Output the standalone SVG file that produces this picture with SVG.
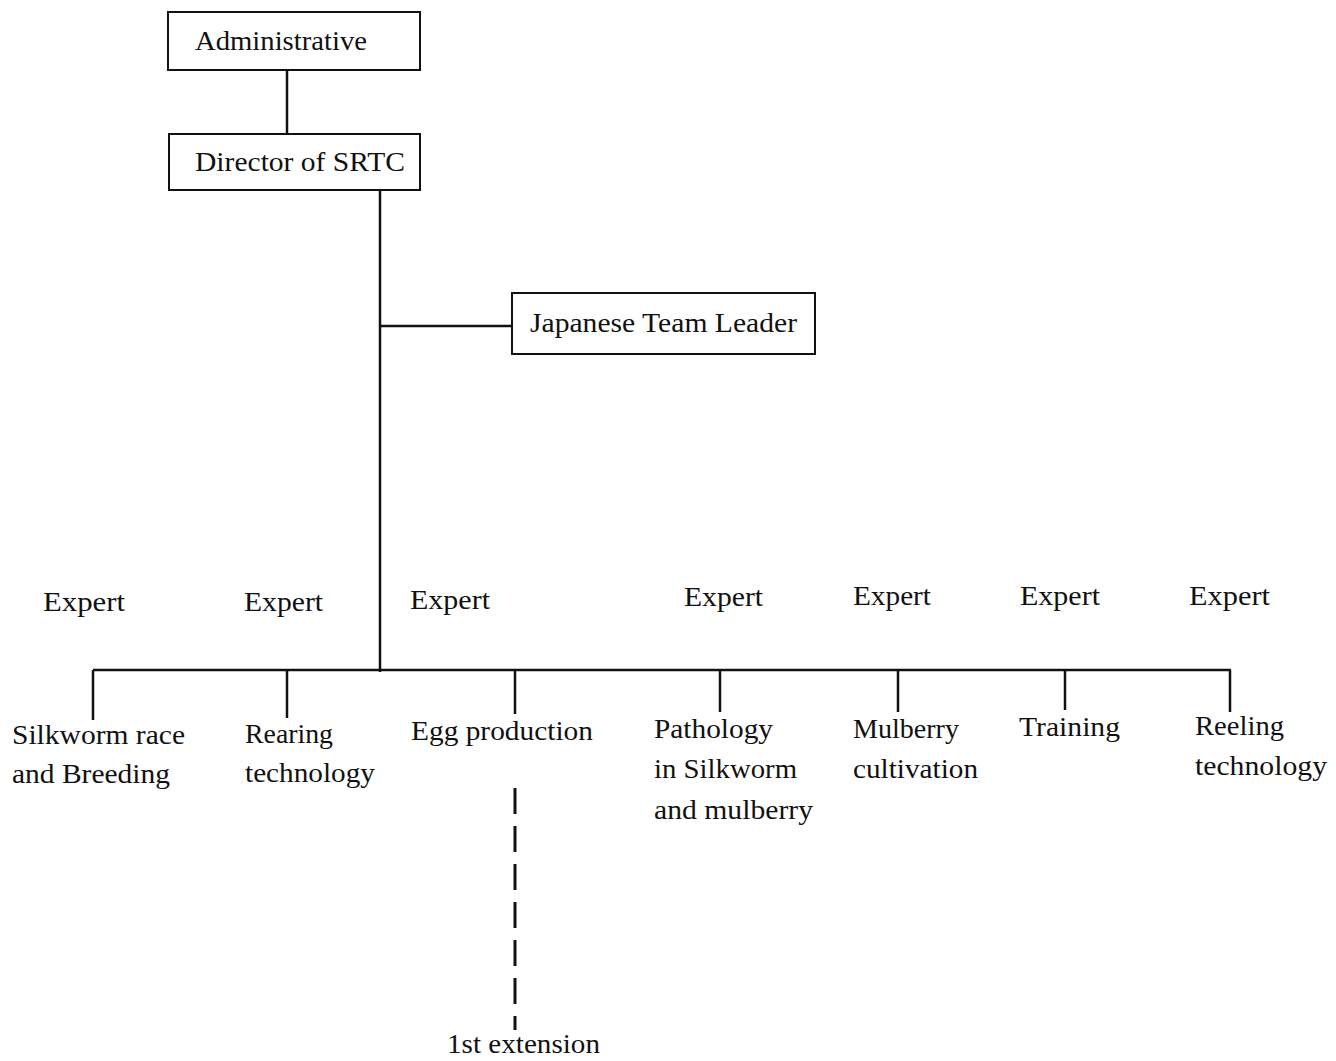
<svg xmlns="http://www.w3.org/2000/svg" width="1336" height="1061" viewBox="0 0 1336 1061">
<style>
text{font-family:"Liberation Serif","Times New Roman",serif;font-size:27px;fill:#111}
.box{fill:#fff;stroke:#111;stroke-width:2}
.ln{stroke:#111;stroke-width:2.5;fill:none}
.dash{stroke:#111;stroke-width:3;fill:none;stroke-dasharray:26 12}
</style>
<rect width="1336" height="1061" fill="#fff"/>
<g id="connectors">
<line class="ln" x1="287" y1="70" x2="287" y2="134"/>
<line class="ln" x1="380" y1="190" x2="380" y2="672"/>
<line class="ln" x1="380" y1="326" x2="512" y2="326"/>
<line class="ln" x1="93" y1="670" x2="1231" y2="670"/>
<line class="ln" x1="93" y1="670" x2="93" y2="720"/>
<line class="ln" x1="287" y1="670" x2="287" y2="718"/>
<line class="ln" x1="515" y1="670" x2="515" y2="714"/>
<line class="ln" x1="720" y1="670" x2="720" y2="712"/>
<line class="ln" x1="898" y1="670" x2="898" y2="712"/>
<line class="ln" x1="1065" y1="670" x2="1065" y2="710"/>
<line class="ln" x1="1230" y1="670" x2="1230" y2="712"/>
<line class="dash" x1="515" y1="788" x2="515" y2="1030"/>
</g>
<g id="administrative">
<rect class="box" x="168" y="12" width="252" height="58"/>
<text x="195" y="50" textLength="172" lengthAdjust="spacingAndGlyphs">Administrative</text>
</g>
<g id="director">
<rect class="box" x="169" y="134" width="251" height="56"/>
<text x="195" y="171" textLength="210" lengthAdjust="spacingAndGlyphs">Director of SRTC</text>
</g>
<g id="team-leader">
<rect class="box" x="512" y="293" width="303" height="61"/>
<text x="530" y="332" textLength="267" lengthAdjust="spacingAndGlyphs">Japanese Team Leader</text>
</g>
<g id="silkworm-race">
<text x="43" y="611" textLength="82" lengthAdjust="spacingAndGlyphs">Expert</text>
<text x="12" y="744" textLength="173" lengthAdjust="spacingAndGlyphs">Silkworm race</text>
<text x="12" y="783" textLength="158" lengthAdjust="spacingAndGlyphs">and Breeding</text>
</g>
<g id="rearing">
<text x="244" y="611" textLength="79" lengthAdjust="spacingAndGlyphs">Expert</text>
<text x="245" y="743" textLength="88" lengthAdjust="spacingAndGlyphs">Rearing</text>
<text x="245" y="782" textLength="130" lengthAdjust="spacingAndGlyphs">technology</text>
</g>
<g id="egg-production">
<text x="410" y="609" textLength="80" lengthAdjust="spacingAndGlyphs">Expert</text>
<text x="411" y="740" textLength="182" lengthAdjust="spacingAndGlyphs">Egg production</text>
</g>
<g id="pathology">
<text x="684" y="606" textLength="79" lengthAdjust="spacingAndGlyphs">Expert</text>
<text x="654" y="738" textLength="119" lengthAdjust="spacingAndGlyphs">Pathology</text>
<text x="654" y="778" textLength="143" lengthAdjust="spacingAndGlyphs">in Silkworm</text>
<text x="654" y="819" textLength="159" lengthAdjust="spacingAndGlyphs">and mulberry</text>
</g>
<g id="mulberry">
<text x="853" y="605" textLength="78" lengthAdjust="spacingAndGlyphs">Expert</text>
<text x="853" y="738" textLength="106" lengthAdjust="spacingAndGlyphs">Mulberry</text>
<text x="853" y="778" textLength="125" lengthAdjust="spacingAndGlyphs">cultivation</text>
</g>
<g id="training">
<text x="1020" y="605" textLength="80" lengthAdjust="spacingAndGlyphs">Expert</text>
<text x="1019" y="736" textLength="101" lengthAdjust="spacingAndGlyphs">Training</text>
</g>
<g id="reeling">
<text x="1189" y="605" textLength="81" lengthAdjust="spacingAndGlyphs">Expert</text>
<text x="1195" y="735" textLength="89" lengthAdjust="spacingAndGlyphs">Reeling</text>
<text x="1195" y="775" textLength="132" lengthAdjust="spacingAndGlyphs">technology</text>
</g>
<g id="extension">
<text x="447" y="1053" textLength="153" lengthAdjust="spacingAndGlyphs">1st extension</text>
</g>
</svg>
